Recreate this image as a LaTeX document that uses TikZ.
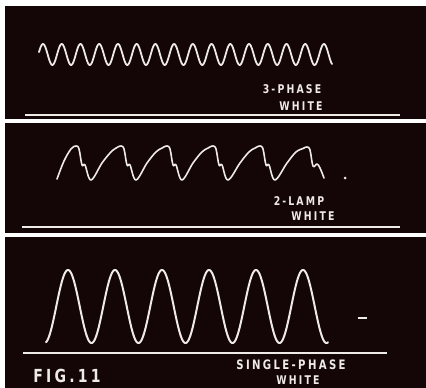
\documentclass[tikz,border=0pt]{standalone}
\usepackage{fontspec}
\newfontfamily\stencilfont[LetterSpace=18,FakeStretch=0.78]{DejaVu Sans}
\definecolor{ScopeBlack}{HTML}{140507}
\definecolor{ScopeTrace}{HTML}{EEEAE6}
\begin{document}
\begin{tikzpicture}[x=1pt,y=-1pt,
  panel/.style={fill=ScopeBlack},
  trace/.style={draw=ScopeTrace,line width=1.7pt,line cap=round,line join=round},
  baseline rule/.style={draw=ScopeTrace,line width=1.1pt},
  tag/.style={text=ScopeTrace,inner sep=0pt,font=\stencilfont\bfseries\fontsize{12}{13}\selectfont}]
\useasboundingbox (0,0) rectangle (426,388);
\fill[white] (0,0) rectangle (426,388);
\fill[panel] (5,6) rectangle (426,119);
\fill[panel] (5,123) rectangle (426,233);
\fill[panel] (5,237) rectangle (426,388);
\draw[trace,line width=1.8pt] plot[domain=39:332,samples=500] (\x,{54.5-10.5*cos(19.221*(\x-43))});
\draw[trace,line width=1.6pt] plot[smooth,tension=0.6] coordinates {(57,179) (64,161) (71,149) (76,146) (79,149) (82,165) (85,165) (91,180) (102,163) (111,152) (117,147.5) (121,146) (124,149) (127,165) (130,165) (136,180) (147,163) (156,152) (163,147.5) (167,146) (170,149) (173,165) (176,165) (182,180) (193,163) (202,152) (209,147.5) (213,146) (216,149) (219,165) (222,165) (228,180) (240,163) (249,152) (256,147.5) (260,146) (263,149) (266,165) (269,165) (275,180) (287,163) (296,152) (303,148.5) (307,147) (310,150) (313,166) (317,164) (320,168) (324,178)};
\draw[trace,line width=2pt] plot[domain=46:328,samples=400] (\x,{306.5-36.5*cos(7.6596*(\x-68))});
\fill[ScopeTrace] (345,178) circle (1.5);
\draw[ScopeTrace,line width=1.2pt] (358,318) -- (367,318);
\draw[baseline rule] (25,115) -- (400,115);
\draw[baseline rule] (22,227) -- (400,227);
\draw[baseline rule] (23,353) -- (387,353);
\node[tag] (phase3) at (292,89) {3-PHASE};
\node[tag] (white3) at (301,106) {WHITE};
\node[tag] (lamp2) at (299,201) {2\,-\,LAMP};
\node[tag] (white2) at (313,216) {WHITE};
\node[tag,font=\stencilfont\bfseries\fontsize{13}{14}\selectfont] (phase1) at (291,365) {SINGLE-PHASE};
\node[tag] (white1) at (298,380) {WHITE};
\node[tag,font=\stencilfont\bfseries\fontsize{18}{19}\selectfont] (figno) at (67,376) {FIG.11};
\end{tikzpicture}
\end{document}
